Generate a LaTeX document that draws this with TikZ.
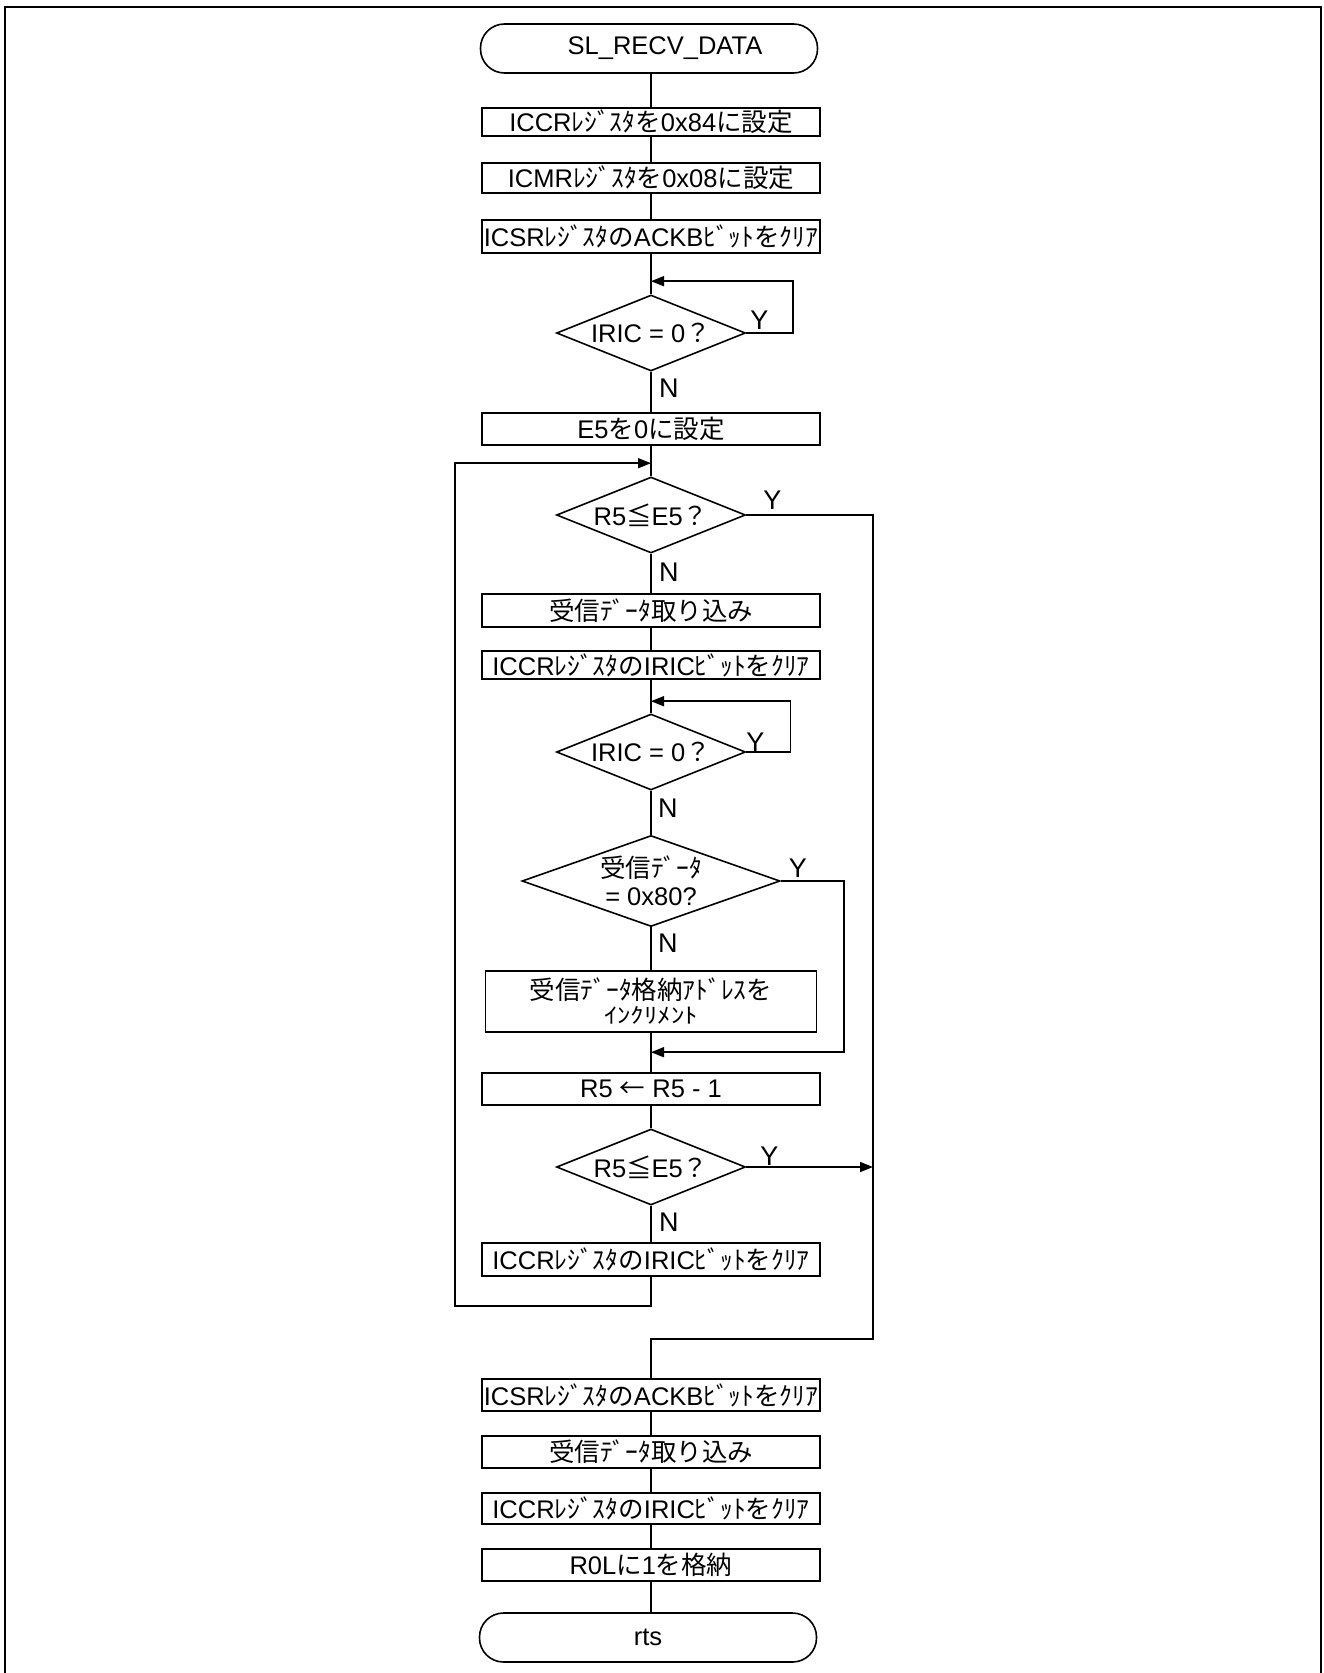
\documentclass[tikz,border=0pt]{standalone}
\usepackage{fontspec}
\usepackage{graphicx}
\setmainfont{Liberation Sans}
\newfontfamily\jpf{Noto Sans CJK JP}
\newcommand\J[1]{{\jpf #1}}
\usetikzlibrary{arrows.meta,shapes.geometric,calc}
\begin{document}
\begin{tikzpicture}[x=1pt,y=-1pt,
  every node/.style={font=\fontsize{25.5}{28}\selectfont},
  proc/.style={draw, line width=1.6pt, rectangle, minimum width=338pt, minimum height=31pt, inner sep=0pt},
  term/.style={draw, line width=1.6pt, rounded corners=24pt, minimum width=337pt, minimum height=49pt, inner sep=0pt},
  dec/.style={draw, line width=1.6pt, diamond, minimum width=189pt, minimum height=76pt, inner sep=0pt, aspect=2.5},
  conn/.style={line width=1.6pt},
  arr/.style={line width=1.6pt, -{Triangle[length=13pt,width=10pt]}},
  lbl/.style={inner sep=0pt, font=\fontsize{27}{28}\selectfont}
]
\useasboundingbox (0,0) rectangle (1324,1673);
\draw[line width=2.5pt] (5,1673) -- (5,7) -- (1321,7) -- (1321,1673);

\node[term] (start) at (649,48.5) {\hspace*{32pt}SL\_RECV\_DATA};
\node[proc, minimum height=28pt] (b1) at (651,122) {ICCR\J{ﾚｼﾞｽﾀを}0x84\J{に設定}};
\node[proc, minimum height=30pt] (b2) at (651,178) {ICMR\J{ﾚｼﾞｽﾀを}0x08\J{に設定}};
\node[proc, minimum height=33pt] (b3) at (651,236.5) {ICSR\J{ﾚｼﾞｽﾀの}ACKB\J{ﾋﾞｯﾄをｸﾘｱ}};
\node[dec] (d1) at (651,333) {IRIC = 0\J{？}};
\node[proc, minimum height=32pt] (b4) at (651,429) {E5\J{を}0\J{に設定}};
\node[dec] (d2) at (651,515) {R5\J{≦}E5\J{？}};
\node[proc, minimum height=33pt] (b5) at (651,610.5) {\J{受信ﾃﾞｰﾀ取り込み}};
\node[proc, minimum height=28pt] (b6) at (651,665) {ICCR\J{ﾚｼﾞｽﾀの}IRIC\J{ﾋﾞｯﾄをｸﾘｱ}};
\node[dec] (d3) at (651,752) {IRIC = 0\J{？}};
\node[dec, minimum width=258pt, minimum height=91pt, align=center] (d4) at (651,881) {\J{受信ﾃﾞｰﾀ}\\= 0x80?};
\node[proc, minimum width=331pt, minimum height=61pt, align=center] (b7) at (651,1001.5) {\J{受信ﾃﾞｰﾀ格納ｱﾄﾞﾚｽを}\\[-4pt]\scalebox{1.05}[0.85]{\J{ｲﾝｸﾘﾒﾝﾄ}}};
\node[proc, minimum height=32pt] (b8) at (651,1089) {R5 \J{←} R5 - 1};
\node[dec] (d5) at (651,1167) {R5\J{≦}E5\J{？}};
\node[proc, minimum height=33pt] (b9) at (651,1259.5) {ICCR\J{ﾚｼﾞｽﾀの}IRIC\J{ﾋﾞｯﾄをｸﾘｱ}};
\node[proc, minimum height=32pt] (b10) at (651,1395) {ICSR\J{ﾚｼﾞｽﾀの}ACKB\J{ﾋﾞｯﾄをｸﾘｱ}};
\node[proc, minimum height=32pt] (b11) at (651,1452) {\J{受信ﾃﾞｰﾀ取り込み}};
\node[proc, minimum height=31pt] (b12) at (651,1508.5) {ICCR\J{ﾚｼﾞｽﾀの}IRIC\J{ﾋﾞｯﾄをｸﾘｱ}};
\node[proc, minimum height=32pt] (b13) at (651,1565) {R0L\J{に}1\J{を格納}};
\node[term] (end) at (648,1637.5) {rts};

\coordinate (lp) at (455,1306);
\coordinate (rj) at (873,1339);

% straight connectors
\draw[conn] (start.south -| b1.north) -- (b1.north);
\draw[conn] (b1) -- (b2);
\draw[conn] (b2) -- (b3);
\draw[conn] (b3) -- (d1);
\draw[conn] (d1) -- (b4);
\draw[conn] (b4) -- (d2);
\draw[conn] (d2) -- (b5);
\draw[conn] (b5) -- (b6);
\draw[conn] (b6) -- (d3);
\draw[conn] (d3) -- (d4);
\draw[conn] (d4) -- (b7);
\draw[conn] (b7) -- (b8);
\draw[conn] (b8) -- (d5);
\draw[conn] (d5) -- (b9);
\draw[conn] (b10) -- (b11);
\draw[conn] (b11) -- (b12);
\draw[conn] (b12) -- (b13);
\draw[conn] (b13) -- (end.north -| b13.south);

% loops
\draw[arr] (d1.east) -- ++(46.5,0) |- ($(d1.north)+(0,-13)$);
\draw[arr] (d3.east) -- ++(44,0) |- ($(d3.north)+(0,-12)$);
\draw[arr] (b9.south) |- (lp) |- ($(d2.north)+(0,-13)$);
\draw[arr] (d4.east) -- ++(63,0) |- ($(b8.north)+(0,-20)$);
\draw[conn] (d2.east) -| (rj) -| (b10.north);
\draw[arr] (d5.east) -- (d5.east -| rj);

% labels
\node[lbl, anchor=west] at ($(d1.south)+(8,16)$) {N};
\node[lbl, anchor=west] at ($(d2.south)+(8,18)$) {N};
\node[lbl, anchor=west] at ($(d3.south)+(7,17)$) {N};
\node[lbl, anchor=west] at ($(d4.south)+(7,16)$) {N};
\node[lbl, anchor=west] at ($(d5.south)+(8,16)$) {N};
\node[lbl] at ($(d1.east)+(13,-13)$) {Y};
\node[lbl] at ($(d2.east)+(26,-15)$) {Y};
\node[lbl] at ($(d3.east)+(9,-10)$) {Y};
\node[lbl] at ($(d4.east)+(17,-13)$) {Y};
\node[lbl] at ($(d5.east)+(23,-11)$) {Y};
\end{tikzpicture}
\end{document}
